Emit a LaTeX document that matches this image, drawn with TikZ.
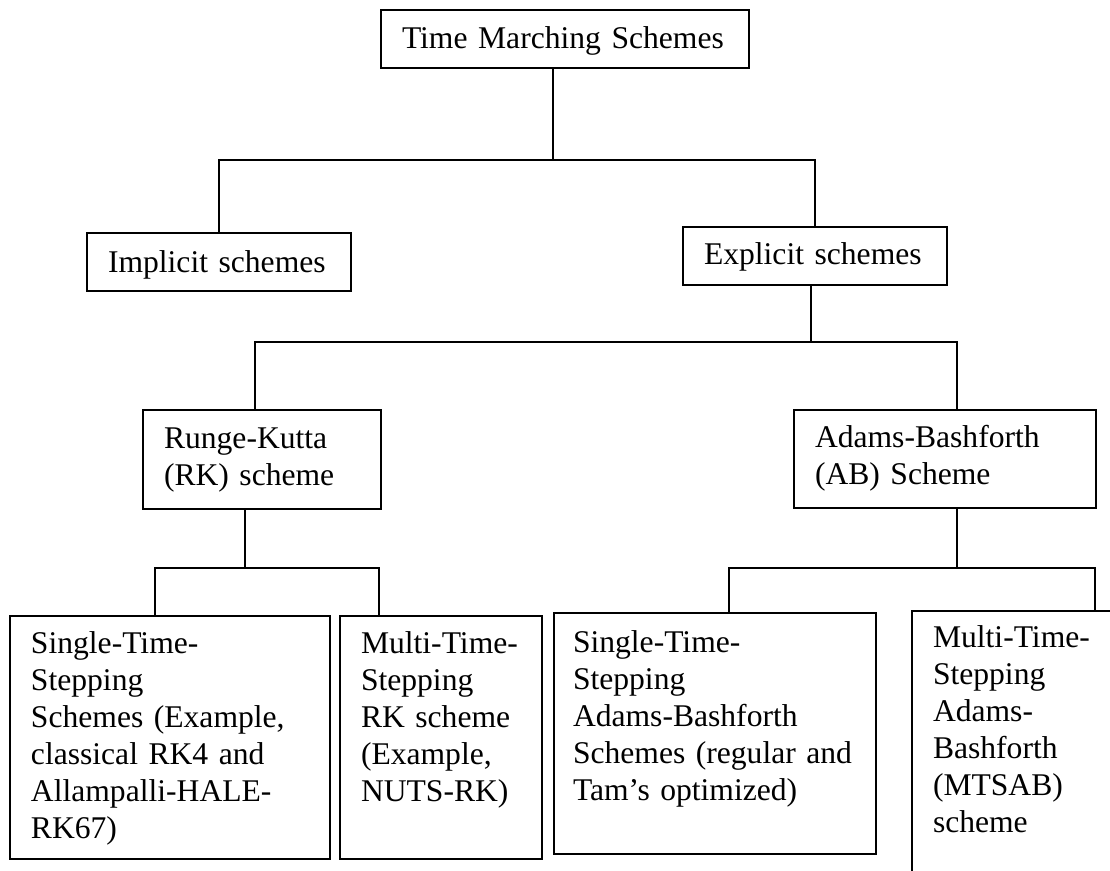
\documentclass[tikz,border=0pt]{standalone}
\usepackage{fontspec}
\setmainfont{Liberation Serif}
\usepackage{tikz}

\newcommand{\boxfont}{\fontsize{15.8pt}{18.5pt}\selectfont\exhyphenpenalty=10000\hyphenpenalty=10000}

\tikzset{
  schemebox/.style={draw, line width=1pt, anchor=north west, align=left,
    inner xsep=10.5pt, inner ysep=0pt, font=\boxfont},
  link/.style={line width=1pt}
}

\begin{document}
\begin{tikzpicture}[x=0.5pt, y=-0.5pt]
  \useasboundingbox (0,0) rectangle (1110,871);
  \clip (0,0) rectangle (1110,871);

  % top levels
  \node[schemebox, text width=163pt, text height=19.5pt, text depth=9.5pt] (tms) at (380,9) {Time Marching Schemes};
  \node[schemebox, text width=111pt, text height=20pt, text depth=9pt] (impl) at (86,232) {Implicit schemes};
  \node[schemebox, text width=111pt, text height=19pt, text depth=10pt] (expl) at (682,226) {Explicit schemes};
  \node[schemebox, text width=98pt, text height=19.5pt, text depth=30pt] (rk) at (142,409) {Runge-Kutta\\(RK) scheme};
  \node[schemebox, text width=130pt, text height=19pt, text depth=30pt] (ab) at (793,409) {Adams-Bashforth\\(AB) Scheme};

  % leaves
  \node[schemebox, text width=139pt, text height=19pt, text depth=102.5pt] (strk) at (9,615)
    {Single-Time-\\Stepping\\Schemes (Example,\\classical RK4 and\\Allampalli-HALE-\\RK67)};
  \node[schemebox, text width=80pt, text height=19pt, text depth=102.5pt] (mtrk) at (339,615)
    {Multi-Time-\\Stepping\\RK scheme\\(Example,\\NUTS-RK)};
  \node[schemebox, inner xsep=9.5pt, text width=142pt, text height=20pt, text depth=100.5pt] (stab) at (553,612)
    {Single-Time-\\Stepping\\Adams-Bashforth\\Schemes (regular and\\Tam’s optimized)};
  \node[schemebox, text width=80pt, text height=18.5pt, text depth=126.5pt] (mtab) at (911,610)
    {Multi-Time-\\Stepping\\Adams-\\Bashforth\\(MTSAB)\\scheme};

  % connectors
  \coordinate (j0) at (553,160);
  \draw[link] (j0 |- tms.south) -- (j0);
  \draw[link] (impl.north) |- (j0) -| (expl.north);

  \coordinate (j1) at (811,342);
  \coordinate (b2l) at (255,342);
  \coordinate (b2r) at (957,342);
  \draw[link] (j1 |- expl.south) -- (j1);
  \draw[link] (b2l |- rk.north) -- (b2l) -- (b2r) -- (b2r |- ab.north);

  \coordinate (b3) at (245,568);
  \coordinate (b3l) at (155,568);
  \coordinate (b3r) at (379,568);
  \draw[link] (b3 |- rk.south) -- (b3);
  \draw[link] (b3l |- strk.north) -- (b3l) -- (b3r) -- (b3r |- mtrk.north);

  \coordinate (b4) at (957,568);
  \coordinate (b4l) at (729,568);
  \coordinate (b4r) at (1095,568);
  \draw[link] (b4 |- ab.south) -- (b4);
  \draw[link] (b4l |- stab.north) -- (b4l) -- (b4r) -- (b4r |- mtab.north);
\end{tikzpicture}
\end{document}
